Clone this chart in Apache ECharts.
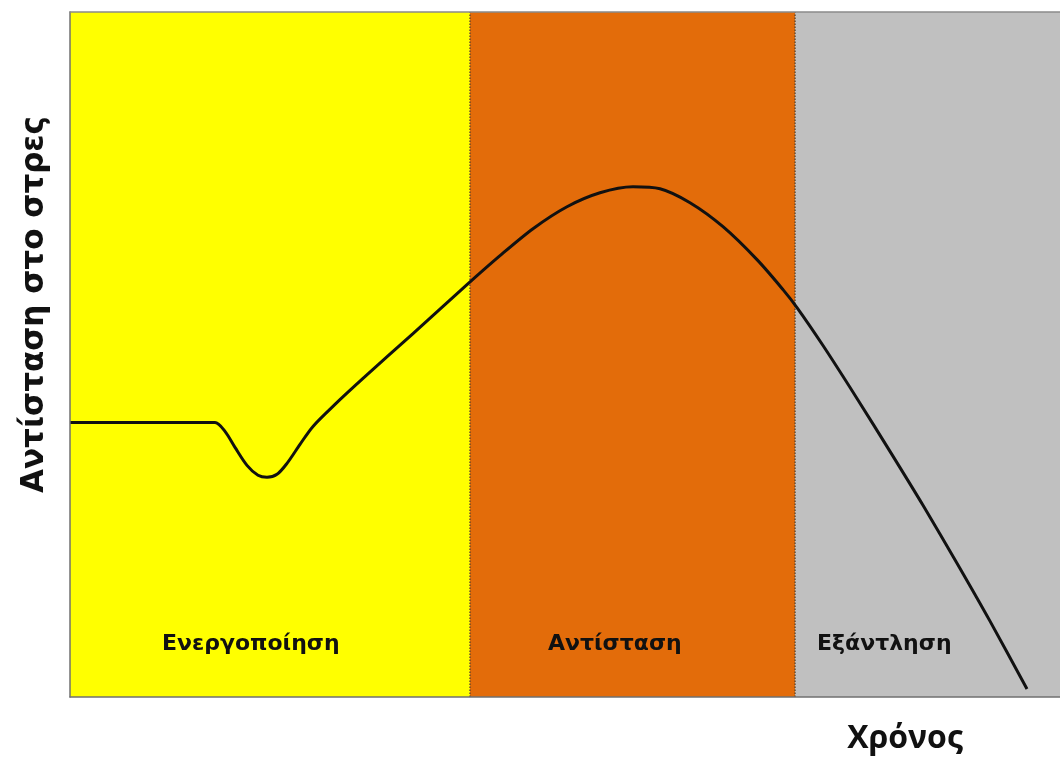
<!DOCTYPE html>
<html>
<head>
<meta charset="utf-8">
<script src="https://cdn.jsdelivr.net/npm/echarts@6/dist/echarts.min.js"></script>
<style>
  html, body { margin: 0; padding: 0; background: #fff; }
  #main { width: 1060px; height: 760px; }
</style>
</head>
<body>
<div id="main"></div>
<script>
// time axis (arbitrary units), stress resistance (arbitrary units)
var timeX = [0, 70, 145, 155, 165, 177, 188, 197, 207, 217, 230, 243, 265, 293, 343, 397, 430, 463, 497, 530, 563, 590, 620, 653, 687, 713, 727, 753, 787, 820, 853, 887, 920, 957];
var resistY = [275, 275, 275, 266, 250, 232, 222, 220, 223, 234, 253, 271, 293, 319, 364, 413, 442, 469, 491, 505, 511, 509, 495, 471, 438, 408, 390, 352, 299, 246, 192, 134, 76, 8];

// phases
var phaseNames = ['Ενεργοποίηση', 'Αντίσταση', 'Εξάντληση'];
var phaseStart = [0, 400, 725];
var phaseEnd = [400, 725, 990];
var phaseColors = ['#ffff00', '#e36c0a', '#c0c0c0'];
var labelOffsetX = [92, 78, 22];

var yTitle = 'Αντίσταση στο στρες';
var xTitle = 'Χρόνος';

var chart = echarts.init(document.getElementById('main'));

var points = [];
for (var i = 0; i < timeX.length; i++) {
  points.push([timeX[i], resistY[i]]);
}

var areas = [];
for (var j = 0; j < phaseNames.length; j++) {
  areas.push([
    {
      xAxis: phaseStart[j],
      itemStyle: { color: phaseColors[j] },
      label: {
        show: true,
        formatter: phaseNames[j],
        position: [labelOffsetX[j], 632],
        verticalAlign: 'middle',
        color: '#111',
        fontFamily: 'DejaVu Sans',
        fontWeight: 'bold',
        fontSize: 22
      }
    },
    { xAxis: phaseEnd[j] }
  ]);
}

var border = { show: true, lineStyle: { color: '#707070', width: 1.5 } };
var hidden = {
  axisTick: { show: false },
  axisLabel: { show: false },
  splitLine: { show: false }
};

chart.setOption({
  animation: false,
  backgroundColor: '#ffffff',
  grid: { left: 70, right: -2, top: 12, bottom: 62 },
  xAxis: [
    Object.assign({
      type: 'value',
      min: 0,
      max: 990,
      z: 10,
      name: xTitle,
      nameLocation: 'middle',
      nameGap: 26,
      nameTextStyle: {
        fontFamily: 'Open Sans',
        fontWeight: 'bold',
        fontSize: 32,
        color: '#111',
        padding: [0, 0, 0, 680]
      },
      axisLine: border
    }, hidden),
    Object.assign({
      type: 'value',
      position: 'top',
      min: 0,
      max: 990,
      z: 10,
      axisLine: { show: true, lineStyle: { color: '#8a8a8a', width: 1.5 } }
    }, hidden)
  ],
  yAxis: Object.assign({
    type: 'value',
    min: 0,
    max: 686,
    z: 10,
    name: yTitle,
    nameLocation: 'middle',
    nameGap: 20,
    nameTextStyle: {
      fontFamily: 'DejaVu Sans',
      fontWeight: 'bold',
      fontSize: 31,
      color: '#111',
      padding: [0, 0, 0, 100]
    },
    axisLine: border
  }, hidden),
  series: [
    {
      type: 'line',
      data: points,
      smooth: 0.3,
      symbol: 'none',
      lineStyle: { color: '#111', width: 3 },
      z: 5,
      markArea: {
        silent: true,
        data: areas
      },
      markLine: {
        silent: true,
        symbol: 'none',
        label: { show: false },
        lineStyle: { type: 'dotted', color: '#6b4a2a', width: 1.5 },
        data: [{ xAxis: phaseStart[1] }, { xAxis: phaseStart[2] }]
      }
    }
  ]
});
</script>
</body>
</html>
